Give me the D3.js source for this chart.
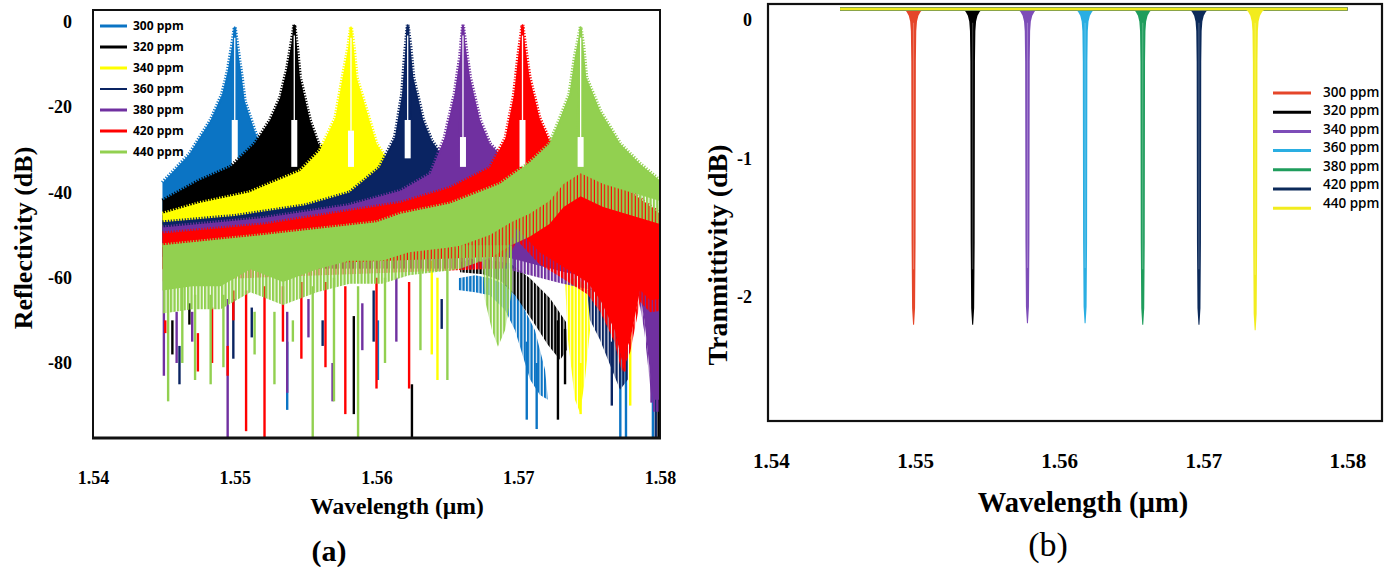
<!DOCTYPE html>
<html>
<head>
<meta charset="utf-8">
<script src="https://cdn.jsdelivr.net/npm/d3@7"></script>
<style>
  body { margin: 0; background: #fff; }
  svg { display: block; }
</style>
</head>
<body>
<svg id="chart" width="1392" height="567"></svg>
<script>
// ---------- data : panel (a) reflectivity ----------
const seriesA = ["300 ppm", "320 ppm", "340 ppm", "360 ppm", "380 ppm", "420 ppm", "440 ppm"];
const colorsA = ["#0b74c4", "#000000", "#ffff00", "#0a2462", "#7030a0", "#ff0000", "#92d050"];

// Bragg peak wavelength (um) and peak level (dB)
const peakA = [1.5500, 1.5542, 1.5582, 1.5622, 1.5661, 1.5703, 1.5744];
const peakTopA = [-1.2, -0.7, -1.2, -0.7, -0.7, -0.7, -1.2];
// white gap under each main lobe [top dB, bottom dB]
const notchA = [[-23, -37], [-23, -34], [-25.5, -34], [-23, -32], [-27, -34], [-23, -34], [-27, -34]];

// upper envelope of the side-lobe band [um, dB]
const upperA = [
  [[1.5449,-37.7],[1.5468,-31],[1.5483,-23],[1.5491,-17],[1.5495,-11.5],[1.5498,-5.7],[1.5500,-1.2],[1.5502,-6],[1.5505,-13],[1.5507,-18.5],[1.5514,-25.5],[1.5519,-29.5],[1.5539,-36],[1.5560,-40]],
  [[1.5449,-41.9],[1.5475,-37.2],[1.5497,-34],[1.5514,-28.6],[1.5525,-23],[1.5532,-17.8],[1.5537,-10.8],[1.5540,-5],[1.5542,-0.7],[1.5544,-6],[1.5546,-13],[1.5553,-23],[1.5559,-28.6],[1.5574,-34],[1.5602,-40]],
  [[1.5449,-45],[1.5475,-42.5],[1.5510,-40],[1.5546,-35],[1.5560,-30.2],[1.5571,-22.5],[1.5576,-13.2],[1.5580,-6],[1.5582,-1.2],[1.5584,-6],[1.5586,-13],[1.5595,-23],[1.5600,-28.6],[1.5607,-32],[1.5630,-38],[1.5660,-42]],
  [[1.5449,-47],[1.5500,-45.5],[1.5550,-43],[1.5581,-40],[1.5602,-34.2],[1.5613,-27],[1.5618,-17],[1.5620,-8],[1.5622,-0.7],[1.5624,-6],[1.5626,-13],[1.5633,-23],[1.5639,-27.9],[1.5644,-30.2],[1.5670,-37],[1.5700,-42]],
  [[1.5449,-48.2],[1.5520,-46],[1.5580,-43],[1.5617,-39.6],[1.5638,-35.6],[1.5648,-27.2],[1.5655,-17],[1.5659,-8],[1.5661,-0.7],[1.5663,-6],[1.5666,-13],[1.5673,-23],[1.5680,-28.6],[1.5687,-31],[1.5710,-37],[1.5740,-42],[1.5770,-46],[1.5800,-50]],
  [[1.5449,-49.6],[1.5520,-47.5],[1.5617,-42.4],[1.5652,-38.9],[1.5680,-34.2],[1.5691,-27.2],[1.5697,-17],[1.5700,-8],[1.5703,-0.7],[1.5705,-6],[1.5708,-13],[1.5715,-22.5],[1.5722,-27.9],[1.5726,-30],[1.5750,-35],[1.5780,-40],[1.5800,-45]],
  [[1.5449,-52.4],[1.5520,-50],[1.5600,-47],[1.5617,-45],[1.5652,-42.6],[1.5687,-38],[1.5708,-33],[1.5722,-28.6],[1.5729,-23],[1.5736,-17],[1.5740,-8],[1.5744,-1.2],[1.5746,-6],[1.5748,-13],[1.5758,-21],[1.5772,-28.6],[1.5786,-33.3],[1.5800,-37.2]]
];

// lower edge of the solid band [um, dB]
const floorA = [
  [[1.5449,-55],[1.5560,-55]],
  [[1.5449,-55],[1.5602,-55]],
  [[1.5449,-55],[1.5660,-55]],
  [[1.5449,-55],[1.5700,-55]],
  [[1.5449,-55],[1.5690,-55],[1.5730,-58.5],[1.5751,-60],[1.5765,-61],[1.5785,-62],[1.5789,-70],[1.5795,-88.6],[1.5800,-88.6]],
  [[1.5449,-58],[1.5690,-55],[1.5699,-48.4],[1.5715,-54],[1.5730,-57.1],[1.5749,-61.1],[1.5758,-65.3],[1.5768,-72.3],[1.5773,-79.3],[1.5779,-74.6],[1.5786,-62.9],[1.5793,-65.3],[1.5800,-65]],
  [[1.5449,-63],[1.5470,-62],[1.5490,-62],[1.5511,-58],[1.5534,-61],[1.5558,-58],[1.5581,-56],[1.5604,-56],[1.5623,-54],[1.5650,-53],[1.5659,-52.5],[1.5680,-50],[1.5695,-47],[1.5708,-45],[1.5722,-42],[1.5732,-38],[1.5744,-35.5],[1.5760,-38],[1.5780,-40],[1.5800,-42]]
];

// detached side-lobe arcs in the lower right [um, dB]
const lobesA = [
  [[[1.56575,-62.9],[1.56575,-60.1],[1.56695,-59.4],[1.56801,-60.1],[1.56921,-61.8],[1.57012,-65.3],[1.57118,-72.3],[1.57189,-81.6],[1.5721,-88.6],[1.57153,-87.5],[1.57083,-83.9],[1.56977,-72.3],[1.56907,-67.6],[1.56801,-64.1],[1.56695,-63.4]]],
  [[[1.56589,-58.7],[1.56589,-56.4],[1.56695,-55.4],[1.56801,-55.9],[1.56942,-56.6],[1.57083,-60.1],[1.57224,-64.8],[1.57337,-70.4],[1.57344,-76.9],[1.57295,-79.3],[1.5721,-75.8],[1.57097,-69.9],[1.56977,-64.1],[1.56871,-60.6],[1.56751,-59.2]]],
  [[[1.5733,-60.6],[1.5740,-60.1],[1.57492,-61.8],[1.57506,-72.3],[1.57471,-83.9],[1.57436,-91.7],[1.574,-88.6],[1.57351,-74.6]]],
  [[[1.57485,-62.9],[1.57577,-61.8],[1.57683,-62.9],[1.57774,-65.3],[1.57774,-83.9],[1.57718,-86.3],[1.57661,-81.6],[1.57577,-74.6],[1.57506,-69.9]]],
  [],
  [],
  [[[1.56554,-52.4],[1.56956,-52.4],[1.56956,-62.9],[1.56907,-72.3],[1.56857,-76.2],[1.56815,-72.3],[1.56765,-65.3],[1.56751,-56.4],[1.5666,-55.4],[1.56575,-55.4]]]
];

// deep nulls [um, top dB, bottom dB]
const spikesA = [
  [[1.5537,-75,-91],[1.5601,-70,-84],[1.5706,-75,-93.3],[1.5713,-80,-95.5],[1.5772,-65,-97.6],[1.5776,-70,-97.6],[1.5795,-80,-97.6]],
  [[1.5456,-70,-78],[1.5468,-66,-71],[1.5584,-69,-92],[1.5625,-85,-97.6],[1.5728,-70,-93.3],[1.5733,-72,-85],[1.5799,-75,-97.6]],
  [[1.5639,-56,-78],[1.5643,-60,-84],[1.5744,-80,-92],[1.5779,-65,-90]],
  [[1.5461,-76,-85],[1.5499,-65,-79],[1.5512,-67,-74],[1.5562,-70,-76],[1.5598,-63,-75],[1.5646,-65,-72],[1.5766,-75,-90],[1.5797,-70,-97.6]],
  [[1.5450,-54,-83],[1.5459,-68,-80],[1.5470,-68,-75],[1.5495,-65,-97.6],[1.5537,-68,-87],[1.5552,-65,-74],[1.5569,-80,-89],[1.5590,-66,-77],[1.5614,-60,-75],[1.5794,-80,-89.3]],
  [[1.5451,-70,-73],[1.5474,-73,-82],[1.5484,-67,-80],[1.5495,-76,-83],[1.5499,-63,-70],[1.5508,-63,-96],[1.5521,-62,-97.6],[1.5534,-62,-75],[1.5547,-61,-79],[1.5564,-61,-81],[1.5578,-62,-92],[1.5600,-60,-86],[1.5623,-61,-86],[1.5775,-70,-82]],
  [[1.5453,-62,-89],[1.5463,-62,-80],[1.5472,-64,-84],[1.5483,-64,-85],[1.5492,-64,-81],[1.5514,-68,-78],[1.5528,-68,-85],[1.5541,-70,-75],[1.5555,-62,-97.6],[1.5570,-60,-89],[1.5587,-62,-97.6],[1.5606,-60,-80],[1.5631,-58,-77],[1.5650,-58,-84]]
];

const xTicksA = [1.54, 1.55, 1.56, 1.57, 1.58];
const yTicksA = [0, -20, -40, -60, -80];

// ---------- data : panel (b) transmittivity ----------
const seriesB = ["300 ppm", "320 ppm", "340 ppm", "360 ppm", "380 ppm", "420 ppm", "440 ppm"];
const colorsB = ["#e5462a", "#000000", "#7d4db8", "#2aaee2", "#1f9d5c", "#0c2a5a", "#f2ec1e"];
const dipB = [1.5499, 1.5540, 1.5578, 1.5618, 1.5658, 1.5697, 1.5736];
const depthB = [-2.2, -2.2, -2.19, -2.19, -2.2, -2.2, -2.24];
const spanB = [1.5448, 1.5800];
const levelB = 0.08;
const xTicksB = [1.54, 1.55, 1.56, 1.57, 1.58];
const yTicksB = [0, -1, -2];

// ---------- drawing ----------
const serif = "'Liberation Serif', 'Times New Roman', serif";
const sans = "'Open Sans', 'Noto Sans', sans-serif";
const svg = d3.select("#chart");
const defs = svg.append("defs");

// ===== panel (a) =====
const xA = d3.scaleLinear().domain([1.54, 1.58]).range([93, 660]);
const yA = d3.scaleLinear().domain([-97.6, 2.8]).range([438, 10]);
const lineA = d3.line().x(d => xA(d[0])).y(d => yA(d[1]));
const linePx = d3.line();

defs.append("clipPath").attr("id", "clipA")
  .append("rect").attr("x", 93).attr("y", 10).attr("width", 567).attr("height", 428);

// vertical fringe patterns, one per colour
colorsA.forEach((c, i) => {
  const p = defs.append("pattern").attr("id", "fringe" + i)
    .attr("patternUnits", "userSpaceOnUse").attr("width", 3.4).attr("height", 20);
  p.append("rect").attr("width", 2.3).attr("height", 20).attr("fill", c);
});

const plotA = svg.append("g").attr("clip-path", "url(#clipA)");
// px of ragged stripes under each band (green hangs lower)
const fringeDepth = [13, 13, 13, 13, 13, 13, 24];

seriesA.forEach((name, i) => {
  const c = colorsA[i];
  const g = plotA.append("g");
  const band = upperA[i].concat(floorA[i].slice().reverse());

  // ragged fringes hanging under the band
  const fl = floorA[i].map(d => [xA(d[0]), yA(d[1]) - 1]);
  const fringe = fl.concat(fl.slice().reverse().map(p => [p[0], p[1] + fringeDepth[i]]));
  g.append("path").attr("d", linePx(fringe) + "Z").attr("fill", "url(#fringe" + i + ")");

  g.append("path").attr("d", lineA(band) + "Z").attr("fill", c);
  // serrated top edge
  g.append("path").attr("d", lineA(upperA[i]))
    .attr("fill", "none").attr("stroke", c)
    .attr("stroke-width", 4).attr("stroke-dasharray", "1.2 1.6");

  lobesA[i].forEach(poly => {
    g.append("path").attr("d", lineA(poly) + "Z").attr("fill", "url(#fringe" + i + ")");
  });

  g.selectAll("line.spk").data(spikesA[i]).join("line")
    .attr("class", "spk")
    .attr("x1", d => xA(d[0])).attr("x2", d => xA(d[0]))
    .attr("y1", d => yA(d[1])).attr("y2", d => yA(d[2]))
    .attr("stroke", c).attr("stroke-width", 2.4);

  // main lobe with the white gap below it
  const px = xA(peakA[i]);
  const lobe = [[px - 4, yA(notchA[i][0] - 2)], [px - 1.8, yA(-12)], [px - 0.7, yA(peakTopA[i] - 1)],
                [px, yA(peakTopA[i])], [px + 0.7, yA(peakTopA[i] - 1)], [px + 1.8, yA(-12)], [px + 4, yA(notchA[i][0] - 2)]];
  g.append("path").attr("d", d3.line().curve(d3.curveCatmullRom)(lobe) + "Z")
    .attr("fill", c).attr("stroke", c).attr("stroke-width", 1.5);
  g.append("line").attr("x1", px).attr("x2", px)
    .attr("y1", yA(peakTopA[i] - 2.5)).attr("y2", yA(notchA[i][0]))
    .attr("stroke", "#fff").attr("stroke-width", 1.3);
  g.append("rect")
    .attr("x", px - 3).attr("width", 6)
    .attr("y", yA(notchA[i][0])).attr("height", yA(notchA[i][1]) - yA(notchA[i][0]))
    .attr("fill", "#fff");
});

// axes (a)
const axXA = svg.append("g").attr("transform", "translate(0,438)")
  .call(d3.axisBottom(xA).tickValues(xTicksA).tickSize(0).tickPadding(33).tickFormat(d3.format(".2f")));
const axYA = svg.append("g").attr("transform", "translate(93,0)")
  .call(d3.axisLeft(yA).tickValues(yTicksA).tickSize(0).tickPadding(21).tickFormat(d => String(d)));
[axXA, axYA].forEach(a => {
  a.select(".domain").remove();
  a.selectAll("text").attr("font-family", serif).attr("font-weight", "bold").attr("fill", "#000");
});
axXA.selectAll("text").attr("font-size", 18);
axYA.selectAll("text").attr("font-size", 18);

svg.append("rect").attr("x", 93).attr("y", 10).attr("width", 567).attr("height", 428)
  .attr("fill", "none").attr("stroke", "#111").attr("stroke-width", 2);
svg.append("line").attr("x1", 92).attr("x2", 661).attr("y1", 438).attr("y2", 438)
  .attr("stroke", "#111").attr("stroke-width", 3);

// legend (a)
const legA = svg.append("g");
seriesA.forEach((name, i) => {
  const y = 26 + i * 21;
  legA.append("line").attr("x1", 100).attr("x2", 127).attr("y1", y).attr("y2", y)
    .attr("stroke", colorsA[i]).attr("stroke-width", i === 3 ? 2 : 3);
  legA.append("text").attr("x", 133).attr("y", y).attr("dy", "0.35em")
    .attr("font-family", sans).attr("font-weight", "bold").attr("font-size", 12)
    .text(name);
});

svg.append("text").attr("transform", "translate(23,238) rotate(-90)")
  .attr("text-anchor", "middle").attr("dy", "0.35em")
  .attr("font-family", serif).attr("font-weight", "bold").attr("font-size", 26)
  .text("Reflectivity (dB)");
svg.append("text").attr("x", 397).attr("y", 514).attr("text-anchor", "middle")
  .attr("font-family", serif).attr("font-weight", "bold").attr("font-size", 23.5)
  .text("Wavelength (\u00b5m)");
svg.append("text").attr("x", 329).attr("y", 561).attr("text-anchor", "middle")
  .attr("font-family", serif).attr("font-weight", "bold").attr("font-size", 30)
  .text("(a)");

// ===== panel (b) =====
const xB = d3.scaleLinear().domain([1.5398, 1.5824]).range([768, 1382]);
const yB = d3.scaleLinear().domain([-2.895, 0.1155]).range([421, 4]);

defs.append("clipPath").attr("id", "clipB")
  .append("rect").attr("x", 768).attr("y", 4).attr("width", 614).attr("height", 417);
const plotB = svg.append("g").attr("clip-path", "url(#clipB)");

// half-width (px) of a dip against depth below the flat level
const dipProfile = [[0.08, 10], [0.06, 7], [0.03, 4.8], [-0.01, 3.4], [-0.08, 2.7], [-0.3, 2.3], [-1.6, 2.0]];

seriesB.forEach((name, i) => {
  const c = colorsB[i];
  const cx = xB(dipB[i]);
  plotB.append("line")
    .attr("x1", xB(spanB[0])).attr("x2", xB(spanB[1]))
    .attr("y1", yB(levelB)).attr("y2", yB(levelB))
    .attr("stroke", c).attr("stroke-width", 3);
  const prof = dipProfile.map(p => [yB(p[0]), p[1]])
    .concat([[yB(depthB[i] + 0.12), 1.5], [yB(depthB[i]), 0.5]]);
  const left = prof.map(p => [cx - p[1], p[0]]);
  const right = prof.slice().reverse().map(p => [cx + p[1], p[0]]);
  plotB.append("path").attr("d", d3.line()(left.concat(right)) + "Z").attr("fill", c);
  plotB.append("line").attr("x1", cx).attr("x2", cx)
    .attr("y1", yB(-0.02)).attr("y2", yB(depthB[i] + 0.4))
    .attr("stroke", "#fff").attr("stroke-opacity", 0.35).attr("stroke-width", 0.8);
});

const axXB = svg.append("g").attr("transform", "translate(0,421)")
  .call(d3.axisBottom(xB).tickValues(xTicksB).tickSize(0).tickPadding(32).tickFormat(d3.format(".2f")));
const axYB = svg.append("g").attr("transform", "translate(768,0)")
  .call(d3.axisLeft(yB).tickValues(yTicksB).tickSize(0).tickPadding(16).tickFormat(d => String(d)));
[axXB, axYB].forEach(a => {
  a.select(".domain").remove();
  a.selectAll("text").attr("font-family", serif).attr("font-weight", "bold").attr("fill", "#000");
});
axXB.selectAll("text").attr("font-size", 21);
axYB.selectAll("text").attr("font-size", 18);

svg.append("rect").attr("x", 768).attr("y", 4).attr("width", 614).attr("height", 417)
  .attr("fill", "none").attr("stroke", "#111").attr("stroke-width", 2.2);

// legend (b)
const legB = svg.append("g");
seriesB.forEach((name, i) => {
  const ly = 93 + i * 19.2;
  legB.append("line").attr("x1", 1273).attr("x2", 1311).attr("y1", ly).attr("y2", ly)
    .attr("stroke", colorsB[i]).attr("stroke-width", 3);
  legB.append("text").attr("x", 1323).attr("y", 92 + i * 18.5).attr("dy", "0.35em")
    .attr("font-family", sans).attr("font-weight", 600).attr("font-size", 13.5)
    .text(name);
});

svg.append("text").attr("transform", "translate(717,255) rotate(-90)")
  .attr("text-anchor", "middle").attr("dy", "0.35em")
  .attr("font-family", serif).attr("font-weight", "bold").attr("font-size", 28)
  .text("Tranmittivity (dB)");
svg.append("text").attr("x", 1083).attr("y", 512).attr("text-anchor", "middle")
  .attr("font-family", serif).attr("font-weight", "bold").attr("font-size", 28.5)
  .text("Wavelength (\u00b5m)");
svg.append("text").attr("x", 1048).attr("y", 556).attr("text-anchor", "middle")
  .attr("font-family", serif).attr("font-size", 34)
  .text("(b)");
</script>
</body>
</html>
